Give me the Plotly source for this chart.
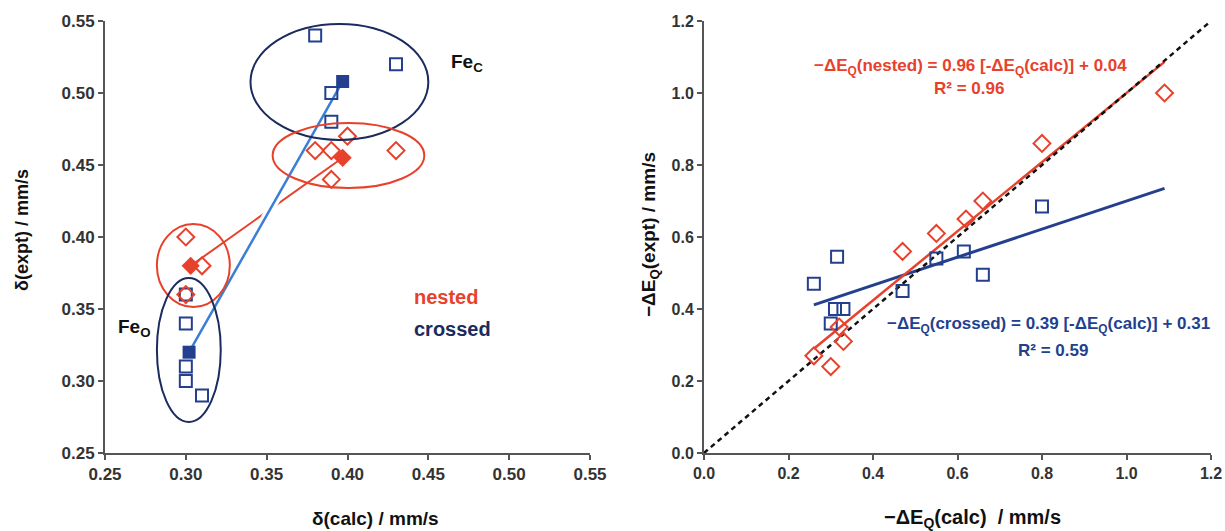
import plotly.graph_objects as go

# ---------------- Left panel data (isomer shift) ----------------
crossed_FeO_calc = [0.30, 0.30, 0.30, 0.30, 0.31]
crossed_FeO_expt = [0.36, 0.34, 0.31, 0.30, 0.29]
crossed_FeC_calc = [0.38, 0.43, 0.39, 0.39]
crossed_FeC_expt = [0.54, 0.52, 0.50, 0.48]
nested_FeO_calc = [0.30, 0.31, 0.30]
nested_FeO_expt = [0.40, 0.38, 0.36]
nested_FeC_calc = [0.40, 0.38, 0.39, 0.43, 0.39]
nested_FeC_expt = [0.47, 0.46, 0.46, 0.46, 0.44]
crossed_mean_calc = [0.302, 0.397]
crossed_mean_expt = [0.320, 0.508]
nested_mean_calc = [0.303, 0.397]
nested_mean_expt = [0.380, 0.455]

# ---------------- Right panel data (quadrupole splitting) ----------------
crossed_dEQ_calc = [0.315, 0.26, 0.31, 0.33, 0.30, 0.47, 0.55, 0.615, 0.66, 0.80]
crossed_dEQ_expt = [0.545, 0.47, 0.40, 0.40, 0.36, 0.45, 0.54, 0.56, 0.495, 0.685]
nested_dEQ_calc = [0.26, 0.30, 0.33, 0.32, 0.47, 0.55, 0.62, 0.66, 0.80, 1.09]
nested_dEQ_expt = [0.27, 0.24, 0.31, 0.35, 0.56, 0.61, 0.65, 0.70, 0.86, 1.00]
fit_x_range = [0.26, 1.09]
nested_fit = (0.96, 0.04)
crossed_fit = (0.39, 0.31)
ideal_x = [0.0, 1.2]

left_ticks = [0.25, 0.30, 0.35, 0.40, 0.45, 0.50, 0.55]
right_ticks = [0.0, 0.2, 0.4, 0.6, 0.8, 1.0, 1.2]

RED = "#e8412b"
NAVY = "#233f8e"
DARKNAVY = "#1c2b5e"
LIGHTBLUE = "#3a7ed6"
FONT = "Liberation Sans"
W, H = 1225, 531

fig = go.Figure()

# Left panel connecting lines
fig.add_trace(go.Scatter(x=nested_mean_calc, y=nested_mean_expt, mode="lines",
                         line=dict(color=RED, width=2), xaxis="x", yaxis="y", showlegend=False))
fig.add_trace(go.Scatter(x=crossed_mean_calc, y=crossed_mean_expt, mode="lines",
                         line=dict(color="white", width=9), xaxis="x", yaxis="y", showlegend=False))
fig.add_trace(go.Scatter(x=crossed_mean_calc, y=crossed_mean_expt, mode="lines",
                         line=dict(color=LIGHTBLUE, width=2.5), xaxis="x", yaxis="y", showlegend=False))

sq_open = dict(symbol="square-open", size=12, color=NAVY, line=dict(width=2, color=NAVY))
dm_open = dict(symbol="diamond-open", size=13, color=RED, line=dict(width=2, color=RED))

fig.add_trace(go.Scatter(x=crossed_FeO_calc + crossed_FeC_calc, y=crossed_FeO_expt + crossed_FeC_expt,
                         mode="markers", marker=sq_open, xaxis="x", yaxis="y", showlegend=False))
fig.add_trace(go.Scatter(x=nested_FeO_calc + nested_FeC_calc, y=nested_FeO_expt + nested_FeC_expt,
                         mode="markers", marker=dm_open, xaxis="x", yaxis="y", showlegend=False))
fig.add_trace(go.Scatter(x=crossed_mean_calc, y=crossed_mean_expt, mode="markers",
                         marker=dict(symbol="square", size=13, color=NAVY), xaxis="x", yaxis="y", showlegend=False))
fig.add_trace(go.Scatter(x=nested_mean_calc, y=nested_mean_expt, mode="markers",
                         marker=dict(symbol="diamond", size=14, color=RED), xaxis="x", yaxis="y", showlegend=False))

# Right panel
fig.add_trace(go.Scatter(x=fit_x_range, y=[crossed_fit[0] * v + crossed_fit[1] for v in fit_x_range], mode="lines",
                         line=dict(color=NAVY, width=3), xaxis="x2", yaxis="y2", showlegend=False))
fig.add_trace(go.Scatter(x=fit_x_range, y=[nested_fit[0] * v + nested_fit[1] for v in fit_x_range], mode="lines",
                         line=dict(color=RED, width=2.5), xaxis="x2", yaxis="y2", showlegend=False))
fig.add_trace(go.Scatter(x=ideal_x, y=ideal_x, mode="lines",
                         line=dict(color="#111111", width=2.5, dash="5px,4px"), xaxis="x2", yaxis="y2",
                         showlegend=False))
fig.add_trace(go.Scatter(x=crossed_dEQ_calc, y=crossed_dEQ_expt, mode="markers", marker=sq_open,
                         xaxis="x2", yaxis="y2", showlegend=False))
fig.add_trace(go.Scatter(x=nested_dEQ_calc, y=nested_dEQ_expt, mode="markers", marker=dm_open,
                         xaxis="x2", yaxis="y2", showlegend=False))

# Ellipses (left panel)
ellipses = [
    (0.340, 0.450, 0.4674, 0.548, DARKNAVY),
    (0.3537, 0.4475, 0.434, 0.4792, RED),
    (0.2821, 0.3272, 0.3514, 0.409, RED),
    (0.2821, 0.3216, 0.2715, 0.3715, DARKNAVY),
]
for x0, x1, y0, y1, c in ellipses:
    fig.add_shape(type="circle", xref="x", yref="y", x0=x0, x1=x1, y0=y0, y1=y1,
                  line=dict(color=c, width=2), layer="above")


def axis_style(size):
    return dict(showgrid=False, zeroline=False, showline=True, linecolor="#555555", linewidth=2,
                ticks="outside", ticklen=5, tickwidth=2, tickcolor="#555555", automargin=False,
                tickfont=dict(family=FONT, size=size, color="#333333", weight="bold"))


def px_x(p):
    return p / W


def px_y(p):
    return 1 - p / H


fig.update_layout(
    width=W, height=H,
    margin=dict(l=0, r=0, t=0, b=0, autoexpand=False),
    paper_bgcolor="white", plot_bgcolor="white",
    xaxis=dict(domain=[px_x(105), px_x(590)], range=[0.25, 0.55], tickvals=left_ticks,
               tickformat=".2f", anchor="y", **axis_style(17)),
    yaxis=dict(domain=[px_y(453), px_y(21)], range=[0.25, 0.55], tickvals=left_ticks,
               tickformat=".2f", anchor="x", **axis_style(17)),
    xaxis2=dict(domain=[px_x(704), px_x(1211)], range=[0.0, 1.2], tickvals=right_ticks,
                tickformat=".1f", anchor="y2", **axis_style(16)),
    yaxis2=dict(domain=[px_y(453), px_y(21)], range=[0.0, 1.2], tickvals=right_ticks,
                tickformat=".1f", anchor="x2", **axis_style(16)),
)


def ann(text, x, y, xref, yref, color="#111111", size=16, xanchor="center", **kw):
    fig.add_annotation(text=text, x=x, y=y, xref=xref, yref=yref, showarrow=False,
                       xanchor=xanchor, yanchor="middle",
                       font=dict(family=FONT, size=size, color=color, weight="bold"), **kw)


ann("Fe<sub>C</sub>", 0.474, 0.521, "x", "y", size=19)
ann("Fe<sub>O</sub>", 0.2685, 0.337, "x", "y", size=19)
ann("nested", 0.461, 0.358, "x", "y", color=RED, size=20)
ann("crossed", 0.4648, 0.336, "x", "y", color=DARKNAVY, size=20)

ann("\u2212\u0394E<sub>Q</sub>(nested) = 0.96 [-\u0394E<sub>Q</sub>(calc)] + 0.04", 0.63, 1.072, "x2", "y2",
    color=RED, size=17)
ann("R\u00b2 = 0.96", 0.628, 1.012, "x2", "y2", color=RED, size=17)
ann("\u2212\u0394E<sub>Q</sub>(crossed) = 0.39 [-\u0394E<sub>Q</sub>(calc)] + 0.31", 0.428, 0.355, "x2", "y2",
    color=NAVY, size=17, xanchor="left")
ann("R\u00b2 = 0.59", 0.826, 0.286, "x2", "y2", color=NAVY, size=17)

# Axis titles
ann("\u03b4(calc) / mm/s", px_x(375), px_y(518), "paper", "paper", size=19)
ann("\u03b4(expt) / mm/s", px_x(22), px_y(230), "paper", "paper", size=18, textangle=-90)
ann("\u2212\u0394E<sub>Q</sub>(calc)  / mm/s", px_x(972), px_y(518), "paper", "paper", size=20)
ann("\u2212\u0394E<sub>Q</sub>(expt) / mm/s", px_x(650), px_y(235), "paper", "paper", size=19, textangle=-90)

fig.write_html("out.html", config={"displayModeBar": False},
               post_script="document.body.style.margin='0px';")
